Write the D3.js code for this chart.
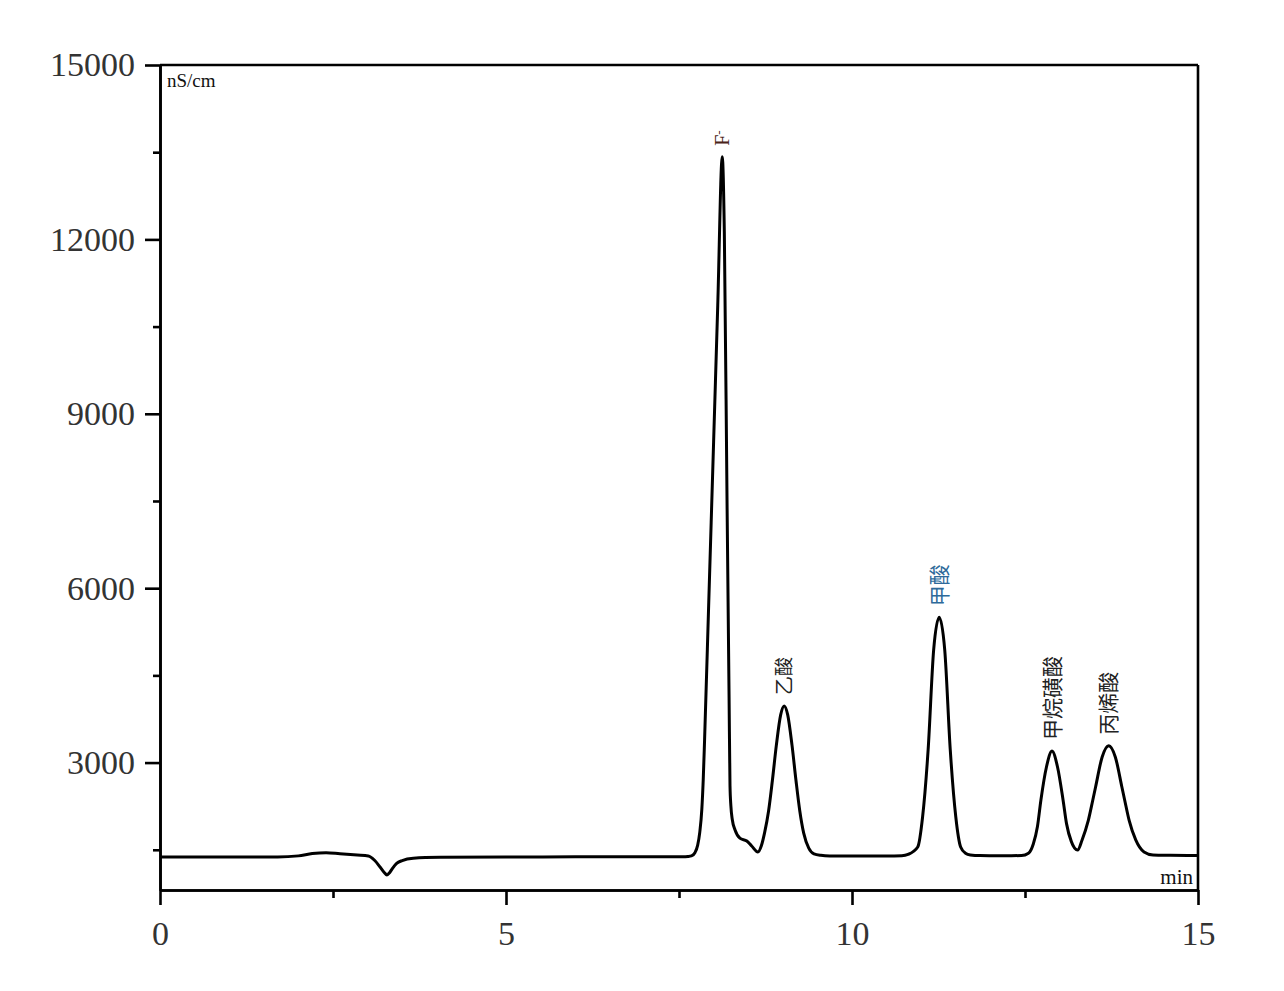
<!DOCTYPE html>
<html><head><meta charset="utf-8">
<script src="https://cdn.jsdelivr.net/npm/d3@7"></script>
<style>body{margin:0;background:#fff} svg{display:block}</style>
</head><body><svg id="c" width="1284" height="991"></svg>
<script>
// ---- data ----
const times = [0, 1.70, 2.00, 2.20, 2.40, 2.60, 2.85, 3.01, 3.10, 3.18, 3.24, 3.28, 3.32, 3.36, 3.42, 3.50, 3.66, 4.05, 5.00, 6.00, 7.00, 7.55, 7.63, 7.68, 7.73, 7.77, 7.80, 7.83, 7.85, 7.87, 7.93, 8.00, 8.06, 8.125, 8.155, 8.194, 8.224, 8.237, 8.25, 8.27, 8.31, 8.38, 8.48, 8.55, 8.64, 8.69, 8.738, 8.795, 8.849, 8.907, 8.969, 9.02, 9.071, 9.133, 9.191, 9.245, 9.302, 9.375, 9.45, 9.55, 9.68, 10.00, 10.50, 10.72, 10.81, 10.95, 11.02, 11.10, 11.18, 11.26, 11.34, 11.42, 11.50, 11.57, 11.64, 11.71, 11.85, 12.20, 12.45, 12.55, 12.62, 12.68, 12.73, 12.81, 12.89, 12.97, 13.05, 13.10, 13.17, 13.26, 13.325, 13.414, 13.48, 13.52, 13.615, 13.71, 13.805, 13.90, 13.94, 14.006, 14.10, 14.22, 14.35, 14.60, 15.00];
const signal = [1376, 1376, 1395, 1435, 1450, 1432, 1410, 1394, 1320, 1204, 1110, 1067, 1110, 1180, 1265, 1315, 1355, 1370, 1376, 1378, 1378, 1380, 1385, 1395, 1450, 1580, 1800, 2200, 2700, 3400, 5760, 8510, 10870, 13420, 12128, 7518, 4077, 2600, 2250, 2020, 1840, 1700, 1650, 1565, 1462, 1570, 1800, 2172, 2687, 3300, 3820, 3974, 3820, 3300, 2687, 2172, 1786, 1529, 1430, 1405, 1395, 1392, 1392, 1398, 1420, 1548, 2064, 3217, 4937, 5500, 4937, 3217, 2064, 1548, 1440, 1411, 1400, 1398, 1400, 1440, 1600, 1900, 2357, 2924, 3200, 2924, 2357, 1950, 1640, 1495, 1669, 2000, 2357, 2580, 3097, 3290, 3097, 2580, 2357, 2000, 1669, 1462, 1411, 1405, 1400];

const peakNames = ["F", "乙酸", "甲酸", "甲烷磺酸", "丙烯酸"];
const peakTimes = [8.125, 9.02, 11.26, 12.89, 13.71];
const peakHeights = [13420, 3974, 5500, 3200, 3290];

const xTicksMajor = [0, 5, 10, 15];
const xTicksMinor = [2.5, 7.5, 12.5];
const yTicksMajor = [3000, 6000, 9000, 12000, 15000];
const yTicksMinor = [1500, 4500, 7500, 10500, 13500];
const yUnit = "nS/cm";
const xUnit = "min";

// ---- layout / style ----
const L = 160, R = 1198, T = 65, B = 890;
const labelColors = ["#4a2418", "#222", "#2e6a9a", "#222", "#222"];
const labelSizes = [20, 19, 21, 21, 21];
const SW = 2.6;
const svg = d3.select("#c");

const x = d3.scaleLinear().domain([0, 15]).range([L, R]);
const y = d3.scaleLinear().domain([808, 15000]).range([B, T]);

const serif = "'Liberation Serif','Times New Roman',serif";

function styleAxis(g) {
  g.selectAll("path, line").attr("stroke", "#000").attr("stroke-width", SW);
  g.selectAll("text").attr("font-family", serif).attr("font-size", 34).attr("fill", "#333");
}

// frame: top and right
svg.append("line").attr("x1", L).attr("x2", R).attr("y1", T).attr("y2", T)
  .attr("stroke", "#000").attr("stroke-width", SW);
svg.append("line").attr("x1", R).attr("x2", R).attr("y1", T).attr("y2", B)
  .attr("stroke", "#000").attr("stroke-width", SW);

// y axis
svg.append("g").attr("transform", `translate(${L},0)`)
  .call(d3.axisLeft(y).tickValues(yTicksMinor).tickSize(7).tickSizeOuter(0).tickFormat(""))
  .call(styleAxis);
svg.append("g").attr("transform", `translate(${L},0)`)
  .call(d3.axisLeft(y).tickValues(yTicksMajor).tickSize(15).tickSizeOuter(0).tickPadding(10).tickFormat(d3.format("d")))
  .call(styleAxis);

// x axis
svg.append("g").attr("transform", `translate(0,${B})`)
  .call(d3.axisBottom(x).tickValues(xTicksMinor).tickSize(8).tickSizeOuter(0).tickFormat(""))
  .call(styleAxis);
svg.append("g").attr("transform", `translate(0,${B})`)
  .call(d3.axisBottom(x).tickValues(xTicksMajor).tickSize(15).tickSizeOuter(0).tickPadding(16).tickFormat(d3.format("d")))
  .call(styleAxis);

// units
svg.append("text").attr("x", L + 7).attr("y", 87).attr("font-family", serif)
  .attr("font-size", 19).attr("fill", "#111").text(yUnit);
svg.append("text").attr("x", R - 5).attr("y", 884).attr("text-anchor", "end").attr("font-family", serif)
  .attr("font-size", 21).attr("fill", "#111").text(xUnit);

// trace
const pts = times.map((t, i) => [t, signal[i]]);
svg.append("path").datum(pts)
  .attr("fill", "none").attr("stroke", "#000").attr("stroke-width", 3).attr("stroke-linejoin", "round")
  .attr("d", d3.line().x(d => x(d[0])).y(d => y(d[1])).curve(d3.curveMonotoneX));

// peak labels
peakNames.forEach((name, i) => {
  const px = x(peakTimes[i]), py = y(peakHeights[i]) - 11;
  const t = svg.append("text")
    .attr("transform", `translate(${px},${py}) rotate(-90)`)
    .attr("dy", "0.36em")
    .attr("font-family", name === "F" ? serif : "'Noto Sans CJK SC', sans-serif")
    .attr("font-size", labelSizes[i])
    .attr("fill", labelColors[i]);
  t.append("tspan").text(name);
  if (name === "F") t.append("tspan").attr("font-size", 13).attr("dy", "-0.5em").text("-");
});
</script>
</body></html>
